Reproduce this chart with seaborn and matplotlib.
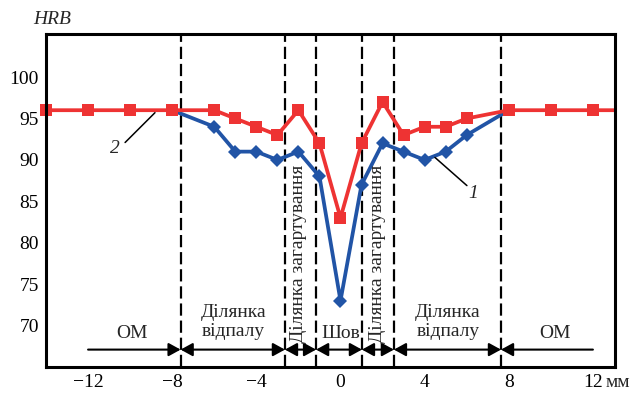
import matplotlib
matplotlib.use("Agg")
import matplotlib.pyplot as plt
import seaborn as sns
import pandas as pd
import numpy as np

# ---- data ----
x_red = [-14, -12, -10, -8, -6, -5, -4, -3, -2, -1, 0, 1, 2, 3, 4, 5, 6, 8, 10, 12, 13]
hrb_red = [96, 96, 96, 96, 96, 95, 94, 93, 96, 92, 83, 92, 97, 93, 94, 94, 95, 96, 96, 96, 96]
x_blue = [-8, -6, -5, -4, -3, -2, -1, 0, 1, 2, 3, 4, 5, 6, 8]
hrb_blue = [96, 94, 91, 91, 90, 91, 88, 73, 87, 92, 91, 90, 91, 93, 96]
zone_bounds = [-7.6, -2.64, -1.16, 1.02, 2.54, 7.63]
x_ticks = [-12, -8, -4, 0, 4, 8, 12]
x_ticklabels = ["\u221212", "\u22128", "\u22124", "0", "4", "8", "12"]
y_ticks = [70, 75, 80, 85, 90, 95, 100]

RED = "#EE3333"
BLUE = "#2154A6"

sns.set_style("white")
plt.rcParams["font.family"] = ["Liberation Serif", "DejaVu Serif"]
plt.rcParams["axes.unicode_minus"] = True

fig = plt.figure(figsize=(6.35, 3.93), dpi=100)
ax = fig.add_axes([46 / 635, 26 / 393, (615 - 46) / 635, (367 - 34) / 393])

df_red = pd.DataFrame({"x": x_red, "hrb": hrb_red})
df_blue = pd.DataFrame({"x": x_blue, "hrb": hrb_blue})

for b in zone_bounds:
    ax.axvline(b, color="black", lw=1.6, dashes=(5.5, 2.2), zorder=1)

sns.lineplot(data=df_blue, x="x", y="hrb", ax=ax, color=BLUE, lw=2.7,
             marker="D", markersize=7.5, markeredgewidth=0,
             markevery=list(range(1, len(x_blue) - 1)), zorder=3, clip_on=False)
sns.lineplot(data=df_red, x="x", y="hrb", ax=ax, color=RED, lw=2.7,
             marker="s", markersize=8, markeredgewidth=0,
             markevery=list(range(0, len(x_red) - 1)), zorder=4, clip_on=False)

ax.set_xlim(-14, 13.05)
ax.set_ylim(65, 105.2)
ax.set_xticks(x_ticks)
ax.set_xticklabels(x_ticklabels)
ax.set_yticks(y_ticks)
ax.set_xlabel("")
ax.set_ylabel("")
ax.tick_params(direction="in", length=7, width=1.6, labelsize=14, pad=5,
               colors="black")
for s in ax.spines.values():
    s.set_linewidth(2.2)
    s.set_color("black")
    s.set_zorder(5)

# unit label
ax.annotate("мм", xy=(12.62, 0), xycoords=("data", "axes fraction"),
            xytext=(0, -5), textcoords="offset points",
            ha="left", va="top", fontsize=14, annotation_clip=False)

fig.text(52 / 635, 1 - 20 / 393, "HRB", style="italic", fontsize=14,
         ha="center", va="center")

# curve labels
ax.plot([-10.24, -8.82], [92.1, 95.7], color="black", lw=1.1, zorder=6)
ax.text(-10.72, 91.4, "2", style="italic", fontsize=14, ha="center", va="center")
ax.plot([4.49, 6.01], [90.3, 86.9], color="black", lw=1.1, zorder=6)
ax.text(6.3, 86.0, "1", style="italic", fontsize=14, ha="center", va="center")

# zone arrows
ya = 67.1
arrow_kw = dict(color="black", lw=1.5, shrinkA=0, shrinkB=0)
ax.annotate("", xy=(zone_bounds[0], ya), xytext=(-12, ya),
            arrowprops=dict(arrowstyle="-|>,head_length=0.4,head_width=0.22",
                            mutation_scale=18, **arrow_kw))
for a, b in zip(zone_bounds[:-1], zone_bounds[1:]):
    ax.annotate("", xy=(b, ya), xytext=(a, ya),
                arrowprops=dict(arrowstyle="<|-|>,head_length=0.4,head_width=0.22",
                                mutation_scale=18, **arrow_kw))
ax.annotate("", xy=(12, ya), xytext=(zone_bounds[-1], ya),
            arrowprops=dict(arrowstyle="<|-,head_length=0.4,head_width=0.22",
                            mutation_scale=18, **arrow_kw))

# zone labels
fs = 14
ax.text(-9.9, 68.5, "ОМ", fontsize=fs, ha="center", va="baseline")
ax.text(-5.1, 71.0, "Ділянка", fontsize=fs, ha="center", va="baseline")
ax.text(-5.1, 68.7, "відпалу", fontsize=fs, ha="center", va="baseline")
ax.text(-2.0, 67.95, "Ділянка загартування", fontsize=fs, rotation=90,
        ha="center", va="bottom")
ax.text(0.0, 68.5, "Шов", fontsize=fs, ha="center", va="baseline")
ax.text(1.78, 67.95, "Ділянка загартування", fontsize=fs, rotation=90,
        ha="center", va="bottom")
ax.text(5.1, 71.0, "Ділянка", fontsize=fs, ha="center", va="baseline")
ax.text(5.1, 68.7, "відпалу", fontsize=fs, ha="center", va="baseline")
ax.text(10.2, 68.5, "ОМ", fontsize=fs, ha="center", va="baseline")

fig.savefig("out.png", dpi=100)
